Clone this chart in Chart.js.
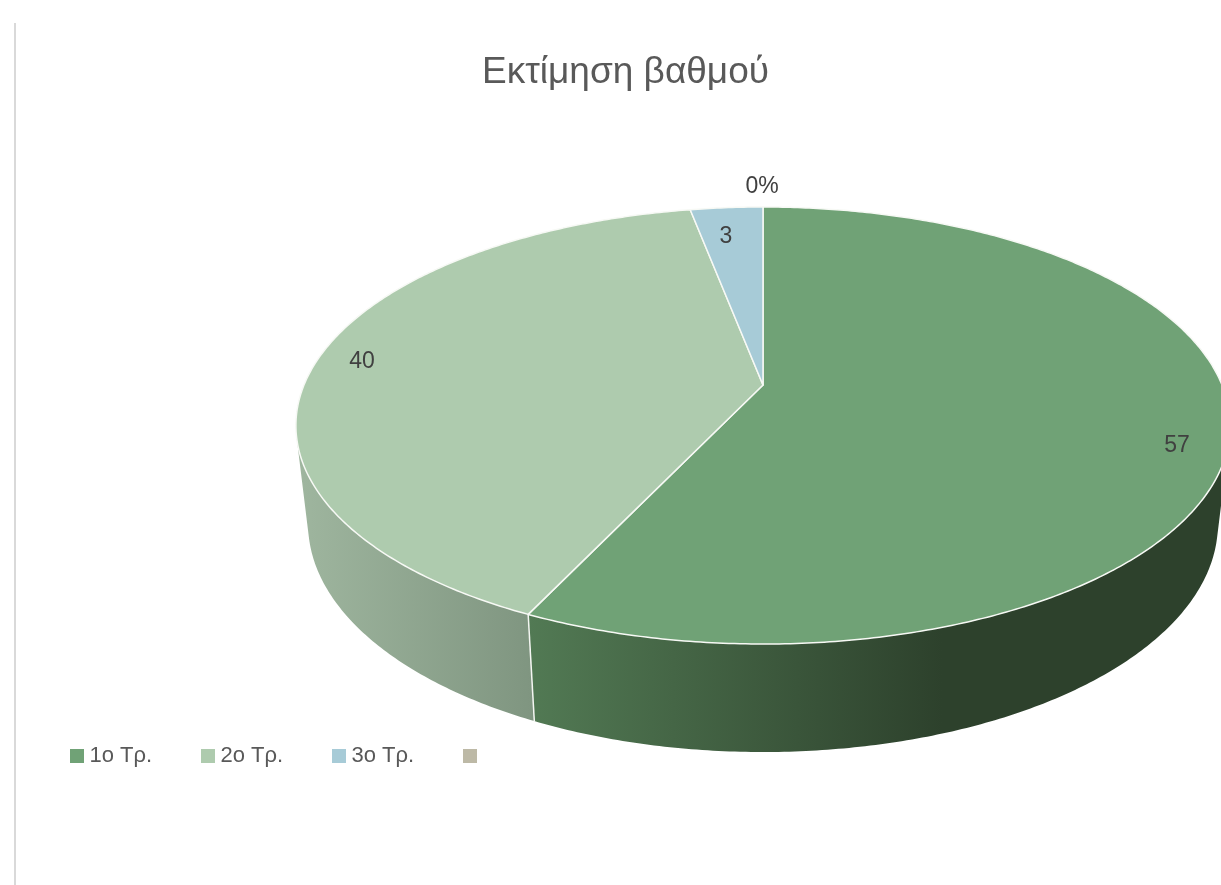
<!DOCTYPE html>
<html lang="el">
<head>
<meta charset="utf-8">
<title>Εκτίμηση βαθμού</title>
<script src="https://cdn.jsdelivr.net/npm/chart.js@4/dist/chart.umd.min.js"></script>
<style>
    html, body { margin: 0; padding: 0; background: #fff; overflow: hidden; }
    #frameLine { position: absolute; left: 14px; top: 23px; bottom: 0; width: 2px; background: #d9d9d9; }
    #gradeChart { position: absolute; left: 16px; top: 0; }
</style>
</head>
<body>
<div id="frameLine"></div>
<canvas id="gradeChart" width="1219" height="885"></canvas>
<script>
const chartTitle = 'Εκτίμηση βαθμού';
const categories = ['1ο Τρ.', '2ο Τρ.', '3ο Τρ.', ''];
const gradeValues = [57, 40, 3, 0];
const valueLabels = ['57', '40', '3', '0%'];

const topColors = ['#70a276', '#aecbae', '#a7cbd7', '#bdb9a6'];
// wall shading runs left to right across each slice
const wallColors = [
    [[0, '#527a54'], [0.59, '#2d412c'], [1, '#2d412c']],
    [[0, '#9fb69f'], [1, '#7f9580']],
    [[0, '#7f9aa3'], [1, '#7f9aa3']],
    [[0, '#8f8c7d'], [1, '#8f8c7d']]
];

// where each value label sits on the canvas
const labelSpots = [[1161, 446], [346, 362], [710, 237], [746, 187]];

// perspective disc: top face and bottom rim share the same tilt
const tilt = 0.1854;
const topPlane = { cx: 747, cy: 385, a: 459, b: 211 };
const bottomPlane = { cx: 747, cy: 481.7, a: 447, b: 220.2 };

function project(plane, angle, r) {
    const X = Math.cos(angle) * r;
    const Y = Math.sin(angle) * r;
    const w = 1 - tilt * Y;
    return [plane.cx + plane.a * X / w, plane.cy + plane.b * Y / w];
}

function rimPoints(plane, start, end) {
    const steps = Math.max(2, Math.ceil((end - start) / 0.01));
    const pts = [];
    for (let i = 0; i <= steps; i++) {
        pts.push(project(plane, start + (end - start) * i / steps, 1));
    }
    return pts;
}

function addPolygon(ctx, pts) {
    pts.forEach((p, i) => i ? ctx.lineTo(p[0], p[1]) : ctx.moveTo(p[0], p[1]));
    ctx.closePath();
}

function signedArea(pts) {
    let sum = 0;
    pts.forEach((p, i) => {
        const q = pts[(i + 1) % pts.length];
        sum += p[0] * q[1] - q[0] * p[1];
    });
    return sum;
}

function wallGradient(ctx, pts, stops) {
    const xs = pts.map(p => p[0]);
    const grad = ctx.createLinearGradient(Math.min(...xs), 0, Math.max(...xs), 0);
    stops.forEach(s => grad.addColorStop(s[0], s[1]));
    return grad;
}

const pie3d = {
    id: 'pie3d',
    // draws the arcs the pie controller laid out, as a tilted disc with a wall
    beforeDatasetsDraw(chart) {
        const ctx = chart.ctx;
        const arcs = chart.getDatasetMeta(0).data;
        ctx.save();
        ctx.lineJoin = 'round';

        arcs.forEach((arc, i) => {
            if (arc.endAngle - arc.startAngle <= 0) return;
            // only the part of the rim facing the viewer shows a wall
            const start = Math.max(arc.startAngle, -0.4);
            const end = Math.min(arc.endAngle, Math.PI + 0.4);
            if (end <= start) return;
            const upper = rimPoints(topPlane, start, end);
            const lower = rimPoints(bottomPlane, start, end);
            // quads wound the same way fill as one shape, silhouette tangents included
            ctx.beginPath();
            for (let s = 0; s < upper.length - 1; s++) {
                const quad = [upper[s], upper[s + 1], lower[s + 1], lower[s]];
                addPolygon(ctx, signedArea(quad) < 0 ? quad.reverse() : quad);
            }
            ctx.fillStyle = wallGradient(ctx, upper.concat(lower), wallColors[i]);
            ctx.fill('nonzero');
        });

        // white seams on the wall where two slices meet
        ctx.strokeStyle = '#f4f6f2';
        ctx.lineWidth = 1.5;
        arcs.forEach(arc => {
            const a = arc.endAngle;
            if (Math.sin(a) > 0.1 && arc.endAngle > arc.startAngle) {
                const p = project(topPlane, a, 1);
                const q = project(bottomPlane, a, 1);
                ctx.beginPath();
                ctx.moveTo(p[0], p[1]);
                ctx.lineTo(q[0], q[1]);
                ctx.stroke();
            }
        });

        arcs.forEach((arc, i) => {
            if (arc.endAngle - arc.startAngle <= 0) return;
            const pts = [project(topPlane, 0, 0)].concat(rimPoints(topPlane, arc.startAngle, arc.endAngle));
            ctx.beginPath();
            addPolygon(ctx, pts);
            ctx.fillStyle = topColors[i];
            ctx.fill();
            ctx.strokeStyle = '#f7f9f5';
            ctx.lineWidth = 1.5;
            ctx.stroke();
        });

        ctx.font = '23px "Liberation Sans", Arial, sans-serif';
        ctx.fillStyle = '#404040';
        ctx.textAlign = 'center';
        ctx.textBaseline = 'middle';
        valueLabels.forEach((text, i) => {
            ctx.fillText(text, labelSpots[i][0], labelSpots[i][1]);
        });
        ctx.restore();
        return false;
    }
};

// square legend swatches, passed to the legend as point styles
function makeSwatch(color) {
    const c = document.createElement('canvas');
    c.width = 14;
    c.height = 14;
    const g = c.getContext('2d');
    g.fillStyle = color;
    g.fillRect(0, 0, 14, 14);
    return c;
}
const swatches = topColors.map(makeSwatch);

new Chart(document.getElementById('gradeChart'), {
    type: 'pie',
    data: {
        labels: categories,
        datasets: [{
            data: gradeValues,
            backgroundColor: topColors,
            borderColor: '#ffffff',
            borderWidth: 1
        }]
    },
    options: {
        responsive: false,
        animation: false,
        layout: { padding: { left: 5.2, right: 5.2, top: 0, bottom: 108 } },
        plugins: {
            tooltip: { enabled: false },
            title: {
                display: true,
                text: chartTitle,
                color: '#595959',
                font: { family: '"Liberation Sans", Arial, sans-serif', size: 37, weight: 'normal' },
                padding: { top: 51, bottom: 30 }
            },
            legend: {
                position: 'bottom',
                align: 'start',
                labels: {
                    usePointStyle: true,
                    pointStyleWidth: 3,
                    boxHeight: 14,
                    padding: 54.3,
                    color: '#595959',
                    font: { family: '"Liberation Sans", Arial, sans-serif', size: 22 },
                    generateLabels: () => categories.map((text, i) => ({
                        text,
                        pointStyle: swatches[i],
                        fillStyle: topColors[i],
                        strokeStyle: topColors[i],
                        fontColor: '#595959',
                        lineWidth: 0,
                        hidden: false,
                        index: i
                    }))
                }
            }
        }
    },
    plugins: [pie3d]
});
</script>
</body>
</html>
